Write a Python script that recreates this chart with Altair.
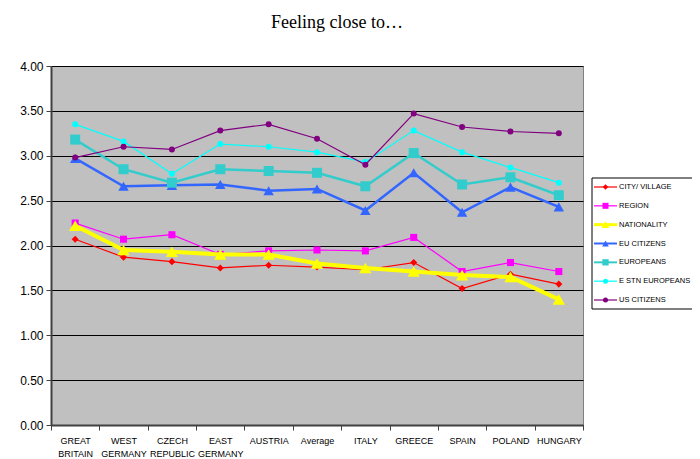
import altair as alt
import pandas as pd

categories = ["GREAT|BRITAIN", "WEST|GERMANY", "CZECH|REPUBLIC", "EAST|GERMANY", "AUSTRIA",
              "Average", "ITALY", "GREECE", "SPAIN", "POLAND", "HUNGARY"]

series_names = ["CITY/ VILLAGE", "REGION", "NATIONALITY", "EU CITIZENS", "EUROPEANS",
                "E STN EUROPEANS", "US CITIZENS"]

city = [2.07, 1.87, 1.82, 1.75, 1.78, 1.76, 1.73, 1.81, 1.52, 1.68, 1.57]
region = [2.25, 2.07, 2.12, 1.90, 1.94, 1.95, 1.94, 2.09, 1.71, 1.81, 1.71]
nationality = [2.22, 1.95, 1.93, 1.90, 1.90, 1.80, 1.75, 1.71, 1.67, 1.65, 1.40]
eu_citizens = [2.97, 2.66, 2.67, 2.68, 2.61, 2.63, 2.39, 2.81, 2.37, 2.65, 2.43]
europeans = [3.18, 2.85, 2.70, 2.85, 2.83, 2.81, 2.66, 3.03, 2.68, 2.76, 2.56]
estn_europeans = [3.35, 3.16, 2.80, 3.13, 3.10, 3.04, 2.93, 3.28, 3.04, 2.87, 2.70]
us_citizens = [2.98, 3.10, 3.07, 3.28, 3.35, 3.19, 2.90, 3.47, 3.32, 3.27, 3.25]

y_ticks = [0, 0.5, 1, 1.5, 2, 2.5, 3, 3.5, 4]

values = [city, region, nationality, eu_citizens, europeans, estn_europeans, us_citizens]

# style per series: colour, line width, marker shape, marker size, legend marker size, legend line width
styles = [
    ("#FF0000", 1.2, "diamond", 50, 30, 1.2),
    ("#FF00FF", 1.2, "square", 50, 36, 1.2),
    ("#FFFF00", 4.0, "triangle-up", 150, 60, 3.0),
    ("#3366FF", 2.5, "triangle-up", 110, 45, 2.0),
    ("#33CCCC", 2.5, "square", 100, 40, 2.0),
    ("#00FFFF", 1.2, "circle", 36, 25, 1.2),
    ("#800080", 1.2, "circle", 36, 25, 1.2),
]

rows = []
for name, vals in zip(series_names, values):
    for c, v in zip(categories, vals):
        rows.append({"series": name, "cat": c, "value": v})
df = pd.DataFrame(rows)

legend_df = pd.DataFrame({"series": series_names})

FONT = "Liberation Sans, Arial"

x_enc = alt.X("cat:N", sort=categories, bandPosition=0.5,
              scale=alt.Scale(type="band", paddingInner=0, paddingOuter=0),
              axis=alt.Axis(title=None, labelAngle=0, tickBand="extent", tickSize=5,
                            tickColor="#404040", domainColor="#404040", domainWidth=2,
                            labelExpr="split(datum.label, '|')", labelFont=FONT,
                            labelFontSize=9, labelLineHeight=13, labelPadding=6,
                            labelColor="black", grid=False))

y_enc = alt.Y("value:Q", scale=alt.Scale(domain=[0, 4], nice=False),
              axis=alt.Axis(title=None, values=y_ticks,
                            format=".2f", grid=True, gridColor="black", gridWidth=1,
                            tickSize=5, tickColor="#404040", domainColor="#404040",
                            domainWidth=2, labelFont="Liberation Sans", labelFontSize=12,
                            labelColor="black", labelPadding=3))

main_layers = []
for name, st in zip(series_names, styles):
    color, sw, shape, size, _, _ = st
    sub = df[df["series"] == name]
    base = alt.Chart(sub)
    line = base.mark_line(color=color, strokeWidth=sw).encode(x=x_enc, y=y_enc)
    pts = base.mark_point(filled=True, opacity=1, color=color, shape=shape, size=size).encode(
        x=x_enc, y=y_enc)
    main_layers += [line, pts]

main = alt.layer(*main_layers)

# legend
ly = alt.Y("series:N", scale=alt.Scale(type="point", domain=series_names, range=[121, 234], padding=0),
           axis=None)
box = alt.Chart(pd.DataFrame({"k": [0]})).mark_rect(fill="white", stroke="black", strokeWidth=1).encode(
    x=alt.value(541), x2=alt.value(730), y=alt.value(112), y2=alt.value(243))
legend_layers = [box]
for name, st in zip(series_names, styles):
    color, sw, shape, size, lsize, lsw = st
    sub = legend_df[legend_df["series"] == name]
    b = alt.Chart(sub)
    legend_layers.append(b.mark_rule(color=color, strokeWidth=lsw).encode(
        x=alt.value(543), x2=alt.value(566), y=ly))
    legend_layers.append(b.mark_point(filled=True, opacity=1, color=color, shape=shape, size=lsize).encode(
        x=alt.value(554.5), y=ly))
    legend_layers.append(b.mark_text(align="left", baseline="middle", font=FONT, fontSize=7.5,
                                     color="black").encode(
        x=alt.value(568), y=ly, text="series:N"))
legend = alt.layer(*legend_layers)

chart = alt.layer(main, legend).resolve_scale(y="independent").properties(
    width=532, height=359,
    background="white",
    autosize=alt.AutoSizeParams(type="none"),
    padding={"left": 43, "top": 58, "right": 109, "bottom": 34},
    title=alt.TitleParams(text="Feeling close to…", font="Liberation Serif", fontSize=18,
                          fontWeight="normal", anchor="middle", dx=20, offset=28, color="black"),
).configure_view(fill="#C0C0C0", stroke="#808080", strokeWidth=1)

chart.save("out.html", embed_options={"renderer": "svg", "actions": False})
